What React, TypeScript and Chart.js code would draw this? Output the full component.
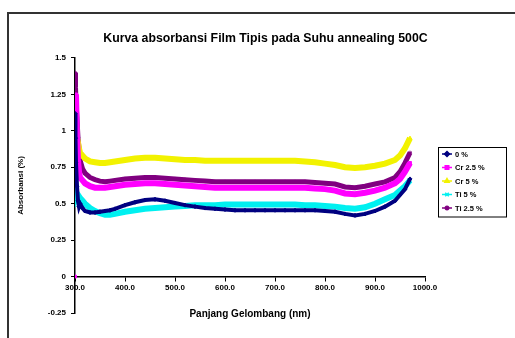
import React, { useEffect, useRef } from "react";
import { Chart, registerables } from "chart.js";
import { drawPoint } from "chart.js/helpers";

Chart.register(...registerables);

// Wavelength (nm) of every sample
const wavelengths = [
  300, 301, 302, 304, 306, 308, 310, 315, 320,
  330, 340, 350, 360, 370, 380,
  400, 420, 440, 460, 480, 500, 520, 540, 560, 580,
  600, 620, 640, 660, 680, 700, 720, 740, 760, 780,
  800, 820, 840, 860, 880, 900, 920, 940,
  950, 960, 970,
];

const seriesNames = ["0 %", "Cr 2.5 %", "Cr 5 %", "Ti 5 %", "Ti 2.5 %"];

const absPure = [
  1.12, 0.95, 0.78, 0.62, 0.52, 0.48, 0.5, 0.47, 0.45,
  0.44, 0.44, 0.445, 0.45, 0.455, 0.465,
  0.49, 0.51, 0.525, 0.53, 0.52, 0.505, 0.49, 0.48, 0.47, 0.465,
  0.46, 0.455, 0.455, 0.455, 0.455, 0.455, 0.455, 0.455, 0.455, 0.455,
  0.45, 0.445, 0.43, 0.42, 0.43, 0.45, 0.48, 0.52,
  0.56, 0.6, 0.67,
];

const absCr25 = [
  0, null, 1.25, 0.95, 0.8, 0.72, 0.68, 0.66, 0.64,
  0.62, 0.61, 0.61, 0.61, 0.615, 0.62,
  0.63, 0.635, 0.64, 0.64, 0.635, 0.63, 0.625, 0.62, 0.615, 0.61,
  0.61, 0.61, 0.61, 0.61, 0.61, 0.61, 0.61, 0.61, 0.61, 0.605,
  0.6, 0.59, 0.57, 0.565, 0.575, 0.59, 0.61, 0.64,
  0.67, 0.72, 0.78,
];

const absCr5 = [
  1.02, 0.97, 1.05, 0.95, 0.92, 0.88, 0.85, 0.83, 0.81,
  0.79, 0.785, 0.78, 0.78, 0.785, 0.79,
  0.8, 0.81, 0.815, 0.815, 0.81, 0.805, 0.8, 0.8, 0.795, 0.795,
  0.795, 0.795, 0.795, 0.795, 0.795, 0.795, 0.795, 0.795, 0.79, 0.785,
  0.775, 0.765, 0.75, 0.745, 0.75, 0.76, 0.775, 0.8,
  0.83, 0.88, 0.95,
];

const absTi5 = [
  0.58, 0.62, 0.55, 0.57, 0.56, 0.55, 0.54, 0.52, 0.5,
  0.47, 0.45, 0.435, 0.425, 0.425, 0.43,
  0.445, 0.455, 0.465, 0.47, 0.475, 0.48, 0.485, 0.49, 0.49, 0.49,
  0.495, 0.495, 0.495, 0.495, 0.495, 0.495, 0.495, 0.495, 0.49, 0.49,
  0.485, 0.48, 0.47, 0.465, 0.475, 0.5, 0.53, 0.56,
  0.59, 0.62, 0.66,
];

const absTi25 = [
  1.4, 1.3, 1.2, 1.08, 0.95, 0.88, 0.8, 0.74, 0.71,
  0.68, 0.665, 0.655, 0.65, 0.655, 0.66,
  0.67, 0.675, 0.68, 0.68, 0.675, 0.67, 0.665, 0.66, 0.655, 0.65,
  0.65, 0.65, 0.65, 0.65, 0.65, 0.65, 0.65, 0.65, 0.65, 0.645,
  0.64, 0.635, 0.615, 0.61, 0.62, 0.635, 0.65, 0.68,
  0.72, 0.78, 0.85,
];

const seriesValues = [absPure, absCr25, absCr5, absTi5, absTi25];
const seriesColors = ["#000080", "#FF00FF", "#F2F200", "#00F0F0", "#800080"];
const seriesMarkers = ["rectRot", "rect", "triangle", "crossRot", "star"];
const seriesWidths = [4, 6, 6, 6, 5];

const xMin = 300;
const xMax = 1000;
const xStep = 100;
const yMin = -0.25;
const yMax = 1.5;
const yStep = 0.25;

const FONT = "'Liberation Sans', Arial, sans-serif";

// Excel-style boxed legend drawn to the right of the plot
const boxedLegend = {
  id: "boxedLegend",
  afterDraw(chart: any) {
    const { ctx, chartArea } = chart;
    const left = chartArea.right + 13;
    const top = 147;
    const width = 68;
    const rowH = 13.5;
    const height = rowH * seriesNames.length + 2;
    ctx.save();
    ctx.fillStyle = "#ffffff";
    ctx.fillRect(left, top, width, height);
    ctx.strokeStyle = "#000000";
    ctx.lineWidth = 1;
    ctx.strokeRect(left + 0.5, top + 0.5, width, height);
    ctx.font = `bold 7.5px ${FONT}`;
    ctx.textBaseline = "middle";
    seriesNames.forEach((name, i) => {
      const cy = top + 7 + i * rowH;
      const mx = left + 9;
      ctx.strokeStyle = seriesColors[i];
      ctx.fillStyle = seriesColors[i];
      ctx.lineWidth = 1.5;
      ctx.beginPath();
      ctx.moveTo(mx - 5, cy);
      ctx.lineTo(mx + 5, cy);
      ctx.stroke();
      drawPoint(
        ctx,
        { pointStyle: seriesMarkers[i], radius: 2.5, borderWidth: 1, rotation: 0 } as any,
        mx,
        cy
      );
      ctx.fillStyle = "#000000";
      ctx.fillText(name, left + 17, cy + 0.5);
    });
    ctx.restore();
  },
};

export default function App() {
  const canvasRef = useRef<HTMLCanvasElement | null>(null);

  useEffect(() => {
    if (!canvasRef.current) return;
    const datasets = seriesNames.map((name, i) => ({
      label: name,
      data: wavelengths.map((w, j) => ({ x: w, y: seriesValues[i][j] })),
      borderColor: seriesColors[i],
      backgroundColor: seriesColors[i],
      borderWidth: seriesWidths[i],
      pointStyle: seriesMarkers[i],
      pointRadius: 2,
      pointBorderWidth: 1,
      pointBorderColor: seriesColors[i],
      pointBackgroundColor: seriesColors[i],
      showLine: true,
      spanGaps: false,
      tension: 0,
    }));

    const chart = new Chart(canvasRef.current, {
      type: "scatter",
      data: { datasets },
      plugins: [boxedLegend],
      options: {
        responsive: false,
        animation: false,
        layout: { padding: { left: 16, right: 0, top: 0, bottom: 25 } },
        plugins: {
          legend: { display: false },
          tooltip: { enabled: false },
          title: {
            display: true,
            text: "Kurva absorbansi Film Tipis pada Suhu annealing 500C",
            color: "#000000",
            font: { family: FONT, size: 12.3, weight: "bold", lineHeight: 1.2 },
            padding: { top: 31, bottom: 12.2 },
          },
        },
        scales: {
          x: {
            type: "linear",
            min: xMin,
            max: xMax,
            position: { y: 0 } as any,
            ticks: {
              stepSize: xStep,
              color: "#000000",
              font: { family: FONT, size: 8, weight: "bold" },
              padding: 2,
              maxRotation: 0,
              callback: (v: any) => Number(v).toFixed(1),
            },
            grid: {
              drawOnChartArea: false,
              drawTicks: true,
              tickLength: 4,
              color: "#000000",
            },
            border: { display: true, color: "#000000", width: 1.5 },
            title: {
              display: true,
              text: "Panjang Gelombang (nm)",
              color: "#000000",
              font: { family: FONT, size: 10, weight: "bold" },
              padding: { top: 14, bottom: 0 },
            },
          },
          y: {
            type: "linear",
            min: yMin,
            max: yMax,
            position: "left",
            afterFit: (scale: any) => {
              scale.width = 59;
            },
            ticks: {
              stepSize: yStep,
              color: "#000000",
              font: { family: FONT, size: 8, weight: "bold" },
              padding: 5,
              callback: (v: any) => String(Math.round(Number(v) * 100) / 100),
            },
            grid: {
              drawOnChartArea: false,
              drawTicks: true,
              tickLength: 4,
              color: "#000000",
            },
            border: { display: true, color: "#000000", width: 1.5 },
            title: {
              display: true,
              text: "Absorbansi (%)",
              color: "#000000",
              font: { family: FONT, size: 8, weight: "bold" },
              padding: { top: 0, bottom: 0 },
            },
          },
          // empty right-hand axis that keeps room for the legend box
          legendSpace: {
            type: "linear",
            position: "right",
            display: true,
            afterFit: (scale: any) => {
              scale.width = 90;
            },
            ticks: { display: false },
            grid: { display: false },
            border: { display: false },
          },
        },
      },
    });
    return () => chart.destroy();
  }, []);

  return (
    <div
      style={{
        position: "fixed",
        left: 0,
        top: 0,
        width: 515,
        height: 338,
        overflow: "hidden",
        background: "#ffffff",
      }}
    >
      <canvas ref={canvasRef} width={515} height={338} style={{ position: "absolute", left: 0, top: 0 }} />
      <div
        style={{
          position: "absolute",
          left: 7,
          top: 12,
          width: 600,
          height: 400,
          borderLeft: "2px solid #333333",
          borderTop: "2px solid #333333",
          pointerEvents: "none",
        }}
      />
    </div>
  );
}
